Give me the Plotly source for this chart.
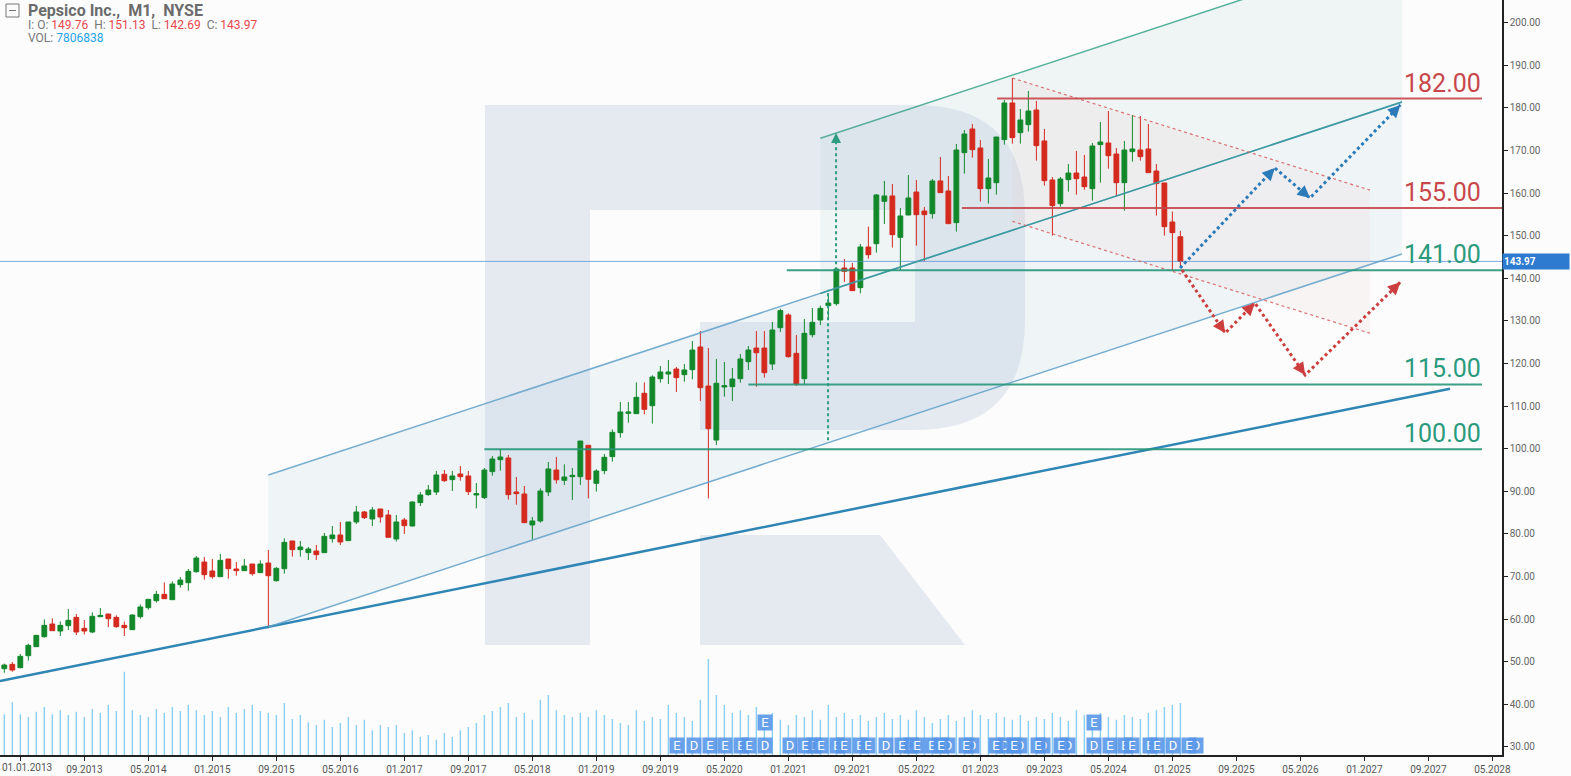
import plotly.graph_objects as go
import pandas as pd
import math

# ---------------- data ----------------
title_text = "Pepsico Inc.,  M1,  NYSE"
first_month = "2012-11-01"

opens = [48.36, 49.38, 48.6, 51.41, 53.53, 55.87, 58.85, 57.2, 58.46, 60.41, 57.83, 56.97,
         60.57, 61.19, 60.41, 58.53, 57.52, 60.57, 62.68, 64.32, 65.81, 64.56, 68.08, 68.55,
         71.13, 73.4, 71.29, 69.96, 74.1, 71.76, 71.37, 72.93, 70.9, 73.17, 69.02, 71.84,
         78.34, 76.31, 75.6, 75.99, 75.6, 78.89, 79.75, 78.42, 82.8, 85.15, 83.5, 85.85,
         84.44, 78.81, 83.27, 81.86, 87.34, 89.22, 89.84, 93.99, 92.74, 94.07, 93.6, 89.14,
         88.51, 94.62, 97.43, 97.82, 89.84, 89.37, 82.1, 83.04, 89.84, 95.0, 92.58, 93.44,
         93.44, 100.79, 91.87, 94.85, 98.14, 103.77, 108.3, 108.23, 113.0, 110.1, 116.44, 117.53,
         118.71, 117.38, 118.55, 123.88, 114.72, 102.04, 114.49, 114.57, 116.44, 120.43, 123.64, 123.64,
         119.88, 128.41, 131.39, 122.39, 116.44, 126.77, 130.21, 133.58, 134.05, 142.42, 142.42, 137.81,
         147.35, 148.13, 158.07, 159.33, 149.62, 154.86, 160.26, 155.8, 155.18, 162.85, 160.5, 153.07,
         169.5, 175.05, 170.59, 161.05, 162.45, 172.55, 181.16, 174.19, 176.07, 179.51, 172.24, 163.08,
         157.53, 163.16, 164.72, 163.78, 161.05, 171.38, 171.77, 169.18, 162.45, 169.74, 170.12, 170.36,
         165.19, 162.38, 153.22, 149.76]
highs = [49.54, 49.93, 51.81, 54.23, 56.27, 59.94, 60.18, 59.47, 62.37, 61.19, 59.79, 61.59,
         62.6, 61.19, 60.88, 59.4, 61.12, 63.46, 64.64, 66.6, 68.63, 68.86, 69.88, 71.76,
         74.81, 74.57, 74.1, 75.28, 74.1, 73.4, 74.1, 72.93, 73.79, 76.22, 72.2, 78.97,
         78.34, 78.34, 76.93, 77.4, 80.22, 81.86, 82.8, 82.8, 86.56, 85.38, 86.32, 85.85,
         85.62, 84.44, 83.74, 87.65, 89.84, 91.49, 94.77, 95.0, 94.77, 95.94, 94.77, 91.95,
         95.47, 98.29, 99.94, 98.53, 93.36, 91.25, 83.97, 90.7, 96.89, 98.06, 96.33, 95.47,
         101.81, 100.79, 95.16, 98.76, 104.55, 110.96, 110.96, 115.58, 115.58, 117.22, 119.41, 120.82,
         119.18, 119.88, 125.28, 127.63, 123.64, 121.06, 120.35, 118.95, 122.23, 124.11, 127.63, 127.63,
         129.74, 132.88, 131.78, 126.69, 130.45, 133.03, 133.58, 136.47, 142.4, 144.54, 143.6, 148.06,
         152.13, 159.79, 162.85, 162.14, 156.51, 164.25, 163.08, 156.74, 163.31, 168.48, 164.02, 171.53,
         174.82, 176.23, 172.47, 168.01, 173.17, 181.86, 187.02, 179.75, 183.97, 181.63, 175.05, 163.78,
         163.78, 166.84, 169.89, 168.95, 171.77, 176.7, 179.28, 170.59, 172.24, 178.34, 178.1, 176.23,
         166.84, 162.38, 155.65, 151.13]
lows = [47.42, 47.66, 48.44, 50.24, 53.45, 55.64, 57.28, 56.03, 57.44, 56.27, 56.42, 56.74,
        60.57, 58.14, 57.99, 56.03, 57.44, 60.1, 62.21, 63.86, 64.79, 64.56, 67.38, 66.67,
        70.9, 69.25, 69.49, 69.96, 69.49, 70.19, 71.37, 70.19, 70.9, 57.83, 68.8, 70.67,
        74.67, 74.67, 73.88, 73.88, 75.6, 77.95, 77.4, 78.42, 82.33, 83.5, 81.86, 82.64,
        79.2, 78.19, 80.0, 81.7, 86.56, 88.98, 89.14, 92.19, 90.08, 92.5, 89.14, 86.01,
        88.2, 93.68, 94.85, 88.04, 86.87, 82.64, 78.58, 82.64, 88.9, 91.8, 91.48, 87.96,
        91.48, 88.35, 89.92, 94.0, 96.96, 102.59, 106.11, 108.23, 108.07, 105.88, 115.5, 115.19,
        113.31, 115.73, 116.29, 111.2, 88.35, 100.87, 112.22, 111.2, 115.5, 118.48, 114.56, 116.68,
        118.48, 127.4, 121.37, 114.72, 115.11, 126.14, 129.04, 130.6, 133.6, 139.14, 137.1, 136.47,
        144.61, 146.02, 152.75, 147.2, 141.95, 154.86, 147.67, 144.07, 154.0, 160.11, 152.83, 150.95,
        164.57, 168.32, 158.0, 157.53, 159.64, 171.38, 171.61, 171.61, 174.43, 167.62, 161.75, 150.01,
        156.82, 160.34, 159.64, 160.81, 158.23, 162.45, 165.74, 159.17, 155.88, 167.38, 167.62, 164.8,
        154.71, 150.01, 141.8, 142.69]
closes = [49.22, 48.05, 51.26, 53.84, 56.19, 58.53, 57.28, 58.53, 59.71, 56.97, 57.2, 60.65,
          60.88, 60.1, 58.22, 57.99, 60.96, 62.84, 64.64, 65.81, 64.79, 68.24, 69.18, 71.21,
          74.34, 70.43, 69.96, 73.79, 71.84, 71.37, 72.46, 70.66, 72.93, 70.19, 71.92, 78.02,
          76.31, 76.93, 76.46, 75.13, 79.43, 79.75, 78.11, 82.8, 85.15, 83.82, 85.62, 83.97,
          79.2, 82.8, 81.94, 87.49, 89.14, 90.31, 93.83, 92.5, 93.6, 93.44, 89.92, 89.45,
          95.0, 97.59, 98.06, 89.22, 89.45, 82.64, 83.04, 90.08, 95.24, 92.7, 93.36, 93.75,
          101.81, 92.81, 94.77, 97.98, 103.84, 108.62, 108.62, 112.06, 109.24, 116.83, 118.01, 118.01,
          116.68, 118.48, 123.17, 114.33, 104.7, 115.35, 114.8, 116.36, 121.06, 123.17, 122.54, 117.85,
          127.87, 132.41, 121.61, 115.11, 127.08, 129.66, 132.95, 134.2, 142.19, 141.64, 137.1, 147.35,
          145.55, 159.56, 159.33, 150.25, 154.63, 158.86, 154.94, 154.94, 162.85, 160.11, 152.83, 170.12,
          173.88, 170.2, 161.05, 163.55, 173.17, 181.16, 173.02, 177.17, 179.28, 171.14, 162.92, 157.06,
          163.31, 164.72, 163.39, 161.52, 171.06, 172.0, 168.79, 162.45, 170.12, 170.36, 168.56, 164.8,
          162.22, 152.13, 150.72, 143.97]
# monthly volume, millions of shares
volumes = [102, 132, 102, 95, 108, 120, 102, 112, 100, 108, 95, 115,
           105, 125, 110, 208, 112, 100, 95, 115, 105, 120, 110, 125,
           112, 100, 110, 95, 120, 105, 115, 125, 110, 105, 100, 130,
           90, 100, 82, 75, 88, 70, 80, 95, 75, 88, 62, 75,
           70, 75, 55, 62, 45, 50, 38, 55, 45, 62, 70, 80,
           100, 110, 120, 130, 95, 105, 88, 138, 150, 112, 100, 95,
           105, 95, 112, 100, 90, 80, 75, 112, 85, 95, 90, 125,
           105, 95, 85, 138, 240, 150, 125, 105, 112, 100, 120, 95,
           105, 88, 75, 100, 95, 112, 88, 125, 95, 105, 90, 100,
           85, 95, 105, 90, 100, 88, 112, 95, 80, 90, 100, 85,
           95, 112, 100, 90, 105, 95, 88, 100, 85, 95, 90, 105,
           95, 85, 112, 100, 90, 105, 95, 88, 100, 95, 90, 105,
           112, 120, 125, 130]
last_volume = 7806838

tick_labels = ["01.01.2013", "09.2013", "05.2014", "01.2015", "09.2015", "05.2016",
               "01.2017", "09.2017", "05.2018", "01.2019", "09.2019", "05.2020",
               "01.2021", "09.2021", "05.2022", "01.2023", "09.2023", "05.2024",
               "01.2025", "09.2025", "05.2026", "01.2027", "09.2027", "05.2028"]

level_prices = [182.2, 156.5, 141.9, 115.1, 99.9]
level_labels = ["182.00", "155.00", "141.00", "115.00", "100.00"]

# event markers (month offset from Jan 2013, letter)
events_under_m = [90.1, 99.2, 102.1, 105.0, 111.3, 114.0, 116.0, 119.0, 123.1, 125.0, 127.8, 130.9, 138.1, 141.2, 147.0]
events_under_t = ["E", "D", "E", "E", "D", "E", "D", "D", "D", "D", "D", "D", "E", "E", "D"]
events_top_m = [82.06, 84.16, 86.16, 88.09, 91.13, 93.09, 96.2, 98.1, 100.1, 103.0, 106.0, 108.2, 110.2,
                112.1, 115.1, 118.2, 122.0, 124.2, 127.15, 130.05, 134.2, 136.2, 139.0, 142.1, 144.1, 146.1]
events_top_t = ["E", "D", "E", "E", "E", "D", "D", "E", "E", "E", "E", "D", "E",
                "E", "E", "E", "E", "E", "E", "E", "D", "E", "E", "E", "D", "E"]
events_raised_m = [93.09, 134.2]

# ---------------- geometry / style ----------------
W, H = 1571, 776
ML, MR, MT, MB = 0, 69, 0, 21
PW, PH = W - ML - MR, H - MT - MB
X_RANGE = [-2.54, 185.2]
Y_RANGE = [28.1, 205.33]
PXM = PW / (X_RANGE[1] - X_RANGE[0])
PXV = PH / (Y_RANGE[1] - Y_RANGE[0])

dates = pd.date_range(first_month, periods=len(opens), freq="MS")
xm = [(d.year - 2013) * 12 + d.month - 1 for d in dates]

FONT = "Roboto"
GREEN_C = "#13882b"
RED_C = "#d42a1e"

fig = go.Figure()

fig.add_trace(go.Candlestick(
    x=xm, open=opens, high=highs, low=lows, close=closes,
    increasing=dict(line=dict(color=GREEN_C, width=1), fillcolor=GREEN_C),
    decreasing=dict(line=dict(color=RED_C, width=1), fillcolor=RED_C),
    whiskerwidth=0, showlegend=False, hoverinfo="skip"))

fig.add_trace(go.Bar(x=xm, y=volumes, width=0.18, marker=dict(color="rgba(110,195,242,0.8)", line=dict(width=0)),
                     yaxis="y2", showlegend=False, hoverinfo="skip"))

shapes = []
annotations = []


def line(x0, y0, x1, y1, color, width, dash="solid", layer="above", xref="x", yref="y"):
    shapes.append(dict(type="line", x0=x0, y0=y0, x1=x1, y1=y1, xref=xref, yref=yref,
                       line=dict(color=color, width=width, dash=dash), layer=layer))


def poly(pts, fill, layer="below"):
    p = "M " + " L ".join(f"{a},{b}" for a, b in pts) + " Z"
    shapes.append(dict(type="path", path=p, xref="x", yref="y", fillcolor=fill,
                       line=dict(width=0), layer=layer))


def polyline(pts, color, width, dash):
    p = "M " + " L ".join(f"{a},{b}" for a, b in pts)
    shapes.append(dict(type="path", path=p, xref="x", yref="y",
                       line=dict(color=color, width=width, dash=dash), layer="above"))


def arrowhead(prev, end, color, width=2.5):
    dx = (prev[0] - end[0]) * PXM
    dy = -(prev[1] - end[1]) * PXV
    n = math.hypot(dx, dy) or 1
    annotations.append(dict(x=end[0], y=end[1], xref="x", yref="y", text="", showarrow=True,
                            ax=dx / n * 9, ay=dy / n * 9, arrowhead=2, arrowsize=1,
                            arrowwidth=width, arrowcolor=color))


# watermark "R" (pixel coordinates from the top-left of the plot area)
wm = ("M 485,-105 L 915,-105 Q 1025,-105 1025,-215 L 1025,-320 Q 1025,-430 915,-430 "
      "L 700,-430 L 700,-322 L 915,-322 L 915,-210 L 590,-210 L 590,-645 L 485,-645 Z "
      "M 700,-535 L 880,-535 L 965,-645 L 700,-645 Z")
shapes.append(dict(type="path", path=wm, xref="paper", yref="paper", xsizemode="pixel", ysizemode="pixel",
                    xanchor=0, yanchor=1, fillcolor="#e5eaf1", line=dict(width=0), layer="below"))

SLOPE = 0.618  # channel slope, price per month
up0 = (31.0, 93.83)
lo0 = (31.0, 58.15)
xe = 172.7
up1 = (xe, up0[1] + (xe - up0[0]) * SLOPE)
lo1 = (xe, lo0[1] + (xe - lo0[0]) * SLOPE)
gx = 100.0
g_up = 136.46
g_top = 172.86

# fills
poly([lo0, lo1, up1, up0], "rgba(175,205,222,0.16)")
poly([(gx, g_up), up1, (xe, g_top + (xe - gx) * SLOPE), (gx, g_top)], "rgba(185,210,215,0.18)")
poly([(124.0, 187.0), (168.7, 160.7), (168.7, 127.1), (124.0, 153.38)], "rgba(235,195,195,0.14)")

# last price line
line(0, 143.97, 1, 143.97, "rgba(80,140,210,0.75)", 1, xref="paper")

# support trend line and channel
line(-2.54, 45.47, 178.7, 114.06, "#2f86b5", 2.5)
line(up0[0], up0[1], up1[0], up1[1], "rgba(95,160,200,0.85)", 1.5)
line(gx, g_up, up1[0], up1[1], "rgba(50,150,150,0.85)", 1.6)
line(lo0[0], lo0[1], lo1[0], lo1[1], "rgba(95,160,200,0.85)", 1.5)
line(gx, g_top, 160.0, g_top + 60 * SLOPE, "rgba(60,165,140,0.85)", 1.5)

# descending red channel
line(124.0, 187.0, 168.7, 160.7, "rgba(215,90,90,0.85)", 1.2, dash="3px,3px")
line(124.0, 153.38, 168.7, 127.1, "rgba(215,90,90,0.85)", 1.2, dash="3px,3px")

# levels
LV_RED = "rgba(196,70,75,0.9)"
LV_GREEN = "rgba(38,150,120,0.9)"
lv_x0 = [122.1, 117.7, 95.8, 91.0, 58.0]
lv_x1 = [182.7, 185.2, 185.2, 182.7, 182.7]
lv_col = [LV_RED, LV_RED, LV_GREEN, LV_GREEN, LV_GREEN]
lv_txt = ["#c8474b", "#c8474b", "#2a9a7c", "#2a9a7c", "#2a9a7c"]
for p, lab, a, b, c, tc in zip(level_prices, level_labels, lv_x0, lv_x1, lv_col, lv_txt):
    line(a, p, b, p, c, 2)
    annotations.append(dict(x=177.7, y=p, xref="x", yref="y", text=lab, showarrow=False,
                            xanchor="center", yanchor="bottom", yshift=-1,
                            font=dict(family=FONT, size=25, color=tc)))

# green measured move (dotted vertical)
GREEN_D = "#2e9c7e"
line(101.96, 141.9, 101.96, 174.1, GREEN_D, 2, dash="dot")
line(100.96, 102.0, 100.96, 137.3, GREEN_D, 2, dash="dot")
arrowhead((101.96, 160.0), (101.96, 174.1), GREEN_D, 2)

# forecast paths
blue_path = [(144.96, 142.4), (156.8, 165.9), (161.2, 158.85), (172.5, 180.7)]
red_path = [(145.2, 141.95), (150.6, 127.16), (154.3, 134.2), (160.6, 117.3), (172.5, 139.1)]
BLUE_F = "#2b7bb9"
RED_F = "#cc3d3d"
polyline(blue_path, BLUE_F, 3, "dot")
polyline(red_path, RED_F, 3, "dot")
for i in range(1, len(blue_path)):
    arrowhead(blue_path[i - 1], blue_path[i], BLUE_F)
for i in range(1, len(red_path)):
    arrowhead(red_path[i - 1], red_path[i], RED_F)

# header
shapes.append(dict(type="rect", xref="paper", yref="paper", xsizemode="pixel", ysizemode="pixel",
                   xanchor=0, yanchor=1, x0=6, x1=19, y0=-4, y1=-17,
                   line=dict(color="#777", width=1), fillcolor="rgba(0,0,0,0)", layer="above"))
shapes.append(dict(type="line", xref="paper", yref="paper", xsizemode="pixel", ysizemode="pixel",
                   xanchor=0, yanchor=1, x0=9, x1=16, y0=-10.5, y1=-10.5,
                   line=dict(color="#777", width=1), layer="above"))


def ypx(py):
    return 1 - py / PH


annotations.append(dict(x=26 / PW, y=ypx(10.5), xref="paper", yref="paper", showarrow=False,
                        xanchor="left", yanchor="middle", text="<b>" + title_text + "</b>",
                        font=dict(family=FONT, size=16, color="#6b6b6b")))
RV = "#e8474c"
ohlc_txt = (f"I: O: <span style='color:{RV}'>{opens[-1]:.2f}</span>  H: <span style='color:{RV}'>{highs[-1]:.2f}</span>  "
            f"L: <span style='color:{RV}'>{lows[-1]:.2f}</span>  C: <span style='color:{RV}'>{closes[-1]:.2f}</span>")
annotations.append(dict(x=26 / PW, y=ypx(25), xref="paper", yref="paper", showarrow=False,
                        xanchor="left", yanchor="middle", text=ohlc_txt,
                        font=dict(family=FONT, size=12, color="#777")))
annotations.append(dict(x=26 / PW, y=ypx(38.5), xref="paper", yref="paper", showarrow=False,
                        xanchor="left", yanchor="middle",
                        text=f"VOL: <span style='color:#1fa3ea'>{last_volume}</span>",
                        font=dict(family=FONT, size=12, color="#777")))

# first x tick label, shifted inside the figure
annotations.append(dict(x=27 / PW, y=0, xref="paper", yref="paper", showarrow=False,
                        xanchor="center", yanchor="top", yshift=-5, text=tick_labels[0],
                        font=dict(family=FONT, size=10, color="#555")))

# price tag
annotations.append(dict(x=1, y=closes[-1], xref="paper", yref="y", showarrow=False, xanchor="left",
                        yanchor="middle", text=f"<b>{closes[-1]:.2f}</b>", bgcolor="#2d7bd0",
                        width=64, height=13, borderpad=1, align="left",
                        font=dict(family=FONT, size=10, color="white")))

# event markers
EV_BG = "rgba(85,148,232,0.88)"


def event(m, t, py):
    annotations.append(dict(x=m, y=ypx(py), xref="x", yref="paper", showarrow=False, text=t,
                            xanchor="center", yanchor="middle", bgcolor=EV_BG, width=14, height=15,
                            borderpad=0, font=dict(family=FONT, size=13, color="white")))


for m, t in zip(events_under_m, events_under_t):
    event(m, t, 745)
for m, t in zip(events_top_m, events_top_t):
    event(m, t, 745)
for m in events_raised_m:
    event(m, "E", 722)

fig.update_layout(
    width=W, height=H,
    margin=dict(l=ML, r=MR, t=MT, b=MB, pad=0),
    paper_bgcolor="#fcfcfc", plot_bgcolor="#fcfcfc",
    boxgap=0.4, boxgroupgap=0,
    showlegend=False,
    shapes=shapes, annotations=annotations,
    xaxis=dict(range=X_RANGE, tickvals=list(range(0, 185, 8)), ticktext=[""] + tick_labels[1:],
               showgrid=False, zeroline=False, showline=True, linecolor="#222", linewidth=1.5,
               ticks="outside", ticklen=4, tickcolor="#222",
               tickfont=dict(family=FONT, size=10, color="#555"),
               rangeslider=dict(visible=False), fixedrange=True),
    yaxis=dict(range=Y_RANGE, side="right", tickvals=list(range(30, 201, 10)), tickformat=".2f",
               showgrid=False, zeroline=False, showline=True, linecolor="#222", linewidth=1.5,
               ticks="outside", ticklen=4, tickcolor="#222",
               tickfont=dict(family=FONT, size=10, color="#666"), fixedrange=True),
    yaxis2=dict(range=[0, PH * 2.5], overlaying="y", visible=False, fixedrange=True),
    hovermode=False,
)

fig.write_html("out.html", config={"displayModeBar": False},
               post_script="document.body.style.margin='0px';document.body.style.overflow='hidden';")
